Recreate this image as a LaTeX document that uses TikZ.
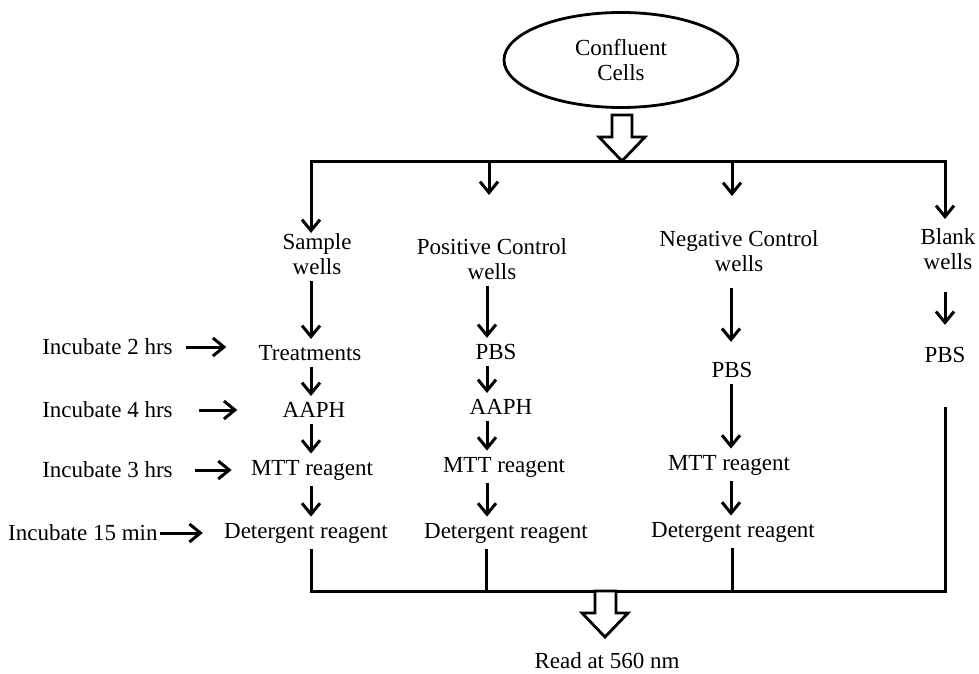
\documentclass[tikz,border=0pt]{standalone}
\usepackage{fontspec}
\setmainfont{Liberation Serif}
\usetikzlibrary{arrows.meta,shapes.geometric}

\tikzset{
  txt/.style={inner sep=3pt, align=center, font=\fontsize{11.5}{12.5}\selectfont},
  flow/.style={line width=1.5pt, -{Straight Barb[length=5.5pt,width=9pt]}},
  flowboth/.style={line width=1.5pt, {Straight Barb[length=5.5pt,width=9pt]}-{Straight Barb[length=5.5pt,width=9pt]}},
  link/.style={line width=1.5pt},
  hollow/.style={line width=1.4pt, fill=white, line join=miter},
}

\begin{document}
\begin{tikzpicture}[x=0.5pt, y=-0.5pt]
  \useasboundingbox (0,0) rectangle (979,674);

  % start
  \node[draw, ellipse, line width=1.4pt, minimum width=117pt, minimum height=47.5pt, txt] (cc) at (621,60) {Confluent\\Cells};

  % wells
  \node[txt] (sw) at (317,254) {Sample\\wells};
  \node[txt] (pw) at (492,259) {Positive Control\\wells};
  \node[txt] (nw) at (739,251) {Negative Control\\wells};
  \node[txt] (bw) at (948,249) {Blank\\wells};

  % sample column
  \node[txt] (tr) at (310,353) {Treatments};
  \node[txt] (a1) at (314,410) {AAPH};
  \node[txt] (m1) at (312,470) {MTT reagent};
  \node[txt] (d1) at (306,533) {Detergent reagent};

  % positive control column
  \node[txt] (pb) at (496,352) {PBS};
  \node[txt] (a2) at (501,407) {AAPH};
  \node[txt] (m2) at (504,467) {MTT reagent};
  \node[txt] (d2) at (506,533) {Detergent reagent};

  % negative control column
  \node[txt] (nb) at (732,370) {PBS};
  \node[txt] (m3) at (729,465) {MTT reagent};
  \node[txt] (d3) at (733,532) {Detergent reagent};

  % blank column
  \node[txt] (bb) at (945,355) {PBS};

  % incubation times
  \node[txt, anchor=east] (i2) at (179,347) {Incubate 2 hrs};
  \node[txt, anchor=east] (i4) at (179,410) {Incubate 4 hrs};
  \node[txt, anchor=east] (i3) at (179,470) {Incubate 3 hrs};
  \node[txt, anchor=east] (i15) at (164,533) {Incubate 15 min};

  \node[txt] (rd) at (607,661) {Read at 560 nm};

  % top split
  \coordinate (t1) at (311,161);
  \coordinate (t2) at (489,161);
  \coordinate (t3) at (732,161);
  \coordinate (t4) at (945,161);
  \coordinate (e1) at (311,233);
  \coordinate (e2) at (489,195);
  \coordinate (e3) at (732,196);
  \coordinate (e4) at (945,219);
  \draw[flowboth] (e1) -- (t1) -- (t4) -- (e4);
  \draw[flow] (t2) -- (e2);
  \draw[flow] (t3) -- (e3);
  \draw[hollow] (612,115) -- (632,115) -- (632,137) -- (645,137) -- (622,161) -- (599,137) -- (612,137) -- cycle;

  % steps
  \coordinate (c1) at (311,0);
  \coordinate (c2) at (487,0);
  \coordinate (c3) at (731,0);
  \coordinate (c4) at (945,0);
  \draw[flow] (sw.south -| c1) -- (tr.north -| c1);
  \draw[flow] (tr.south -| c1) -- (a1.north -| c1);
  \draw[flow] (a1.south -| c1) -- (m1.north -| c1);
  \draw[flow] (m1.south -| c1) -- (d1.north -| c1);

  \draw[flow] (pw.south -| c2) -- (pb.north -| c2);
  \draw[flow] (pb.south -| c2) -- (a2.north -| c2);
  \draw[flow] (a2.south -| c2) -- (m2.north -| c2);
  \draw[flow] (m2.south -| c2) -- (d2.north -| c2);

  \draw[flow, shorten <=5pt, shorten >=7pt] (nw.south -| c3) -- (nb.north -| c3);
  \draw[flow] (nb.south -| c3) -- (m3.north -| c3);
  \draw[flow] (m3.south -| c3) -- (d3.north -| c3);

  \draw[flow, shorten <=8pt, shorten >=8pt] (bw.south -| c4) -- (bb.north -| c4);

  \draw[flow, shorten <=3.5pt, shorten >=13pt] (i2.east) -- (i2.east -| tr.west);
  \draw[flow, shorten <=10pt, shorten >=19.5pt] (i4.east) -- (i4.east -| a1.west);
  \draw[flow, shorten <=8pt, shorten >=6.5pt] (i3.east) -- (i3.east -| m1.west);
  \draw[flow, shorten <=-2pt, shorten >=7.5pt] (i15.east) -- (i15.east -| d1.west);

  % bottom join
  \coordinate (b1) at (311,591);
  \coordinate (b2) at (486,591);
  \coordinate (b3) at (732,591);
  \coordinate (b4) at (945,591);
  \coordinate (bl) at (945,407);
  \draw[link] (d1.south -| b1) -- (b1) -- (b4) -- (bl);
  \draw[link] (d2.south -| b2) -- (b2);
  \draw[link] (d3.south -| b3) -- (b3);
  \draw[hollow] (595,591) -- (616,591) -- (616,613) -- (628,613) -- (605,637) -- (582,613) -- (595,613) -- cycle;
\end{tikzpicture}
\end{document}
